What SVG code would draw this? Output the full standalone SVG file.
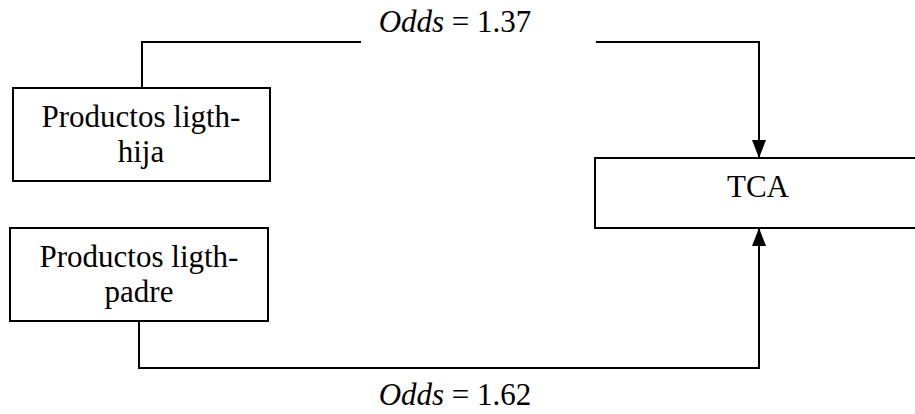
<svg xmlns="http://www.w3.org/2000/svg" width="915" height="414" viewBox="0 0 915 414">
<defs>
<marker id="arr" viewBox="0 0 18 14" refX="18" refY="7" markerWidth="18" markerHeight="14" markerUnits="userSpaceOnUse" orient="auto">
<path d="M0,0 L18,7 L0,14 Z" fill="#000"/>
</marker>
<style>
.box{fill:#fff;stroke:#000;stroke-width:2}
.t{font-size:31px;fill:#000;text-anchor:middle}
.it{font-style:italic}
.ln{fill:none;stroke:#000;stroke-width:2}
</style>
</defs>
<rect width="915" height="414" fill="#fff"/>
<g id="connectors" font-family="'Liberation Serif', 'Times New Roman', Times, serif">
<polyline class="ln" points="142,88 142,42 361,42"/>
<polyline class="ln" points="596,42 759,42 759,158" marker-end="url(#arr)"/>
<polyline class="ln" points="139,321 139,368 759,368 759,228" marker-end="url(#arr)"/>
<text class="t" x="455" y="32"><tspan class="it">Odds</tspan> = 1.37</text>
<text class="t" x="455" y="405"><tspan class="it">Odds</tspan> = 1.62</text>
</g>
<g id="hija" font-family="'Liberation Serif', 'Times New Roman', Times, serif">
<rect class="box" x="13" y="88" width="257" height="93"/>
<text class="t" x="141" y="127">Productos ligth-</text>
<text class="t" x="141" y="162">hija</text>
</g>
<g id="padre" font-family="'Liberation Serif', 'Times New Roman', Times, serif">
<rect class="box" x="10" y="228" width="258" height="93"/>
<text class="t" x="139" y="267">Productos ligth-</text>
<text class="t" x="139" y="302">padre</text>
</g>
<g id="tca" font-family="'Liberation Serif', 'Times New Roman', Times, serif">
<rect class="box" x="595" y="158" width="327" height="70"/>
<text class="t" x="758" y="197">TCA</text>
</g>
</svg>
